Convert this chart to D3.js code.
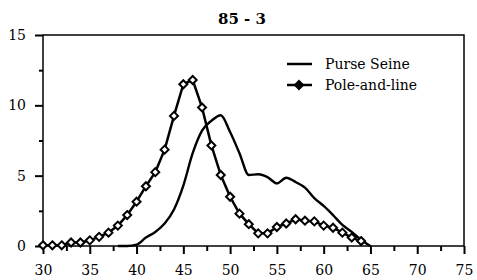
<!DOCTYPE html>
<html>
<head>
<meta charset="utf-8">
<script src="https://cdn.jsdelivr.net/npm/d3@7"></script>
<style>
  html, body { margin: 0; padding: 0; background: #fff; }
  svg text { font-family: "DejaVu Serif", "Liberation Serif", serif; fill: #000; }
</style>
</head>
<body>
<svg id="chart" width="477" height="280"></svg>
<script>
// ---- data ----
const title = "85 - 3";
const seriesNames = ["Purse Seine", "Pole-and-line"];
const purseLengths = [38, 39, 40, 41, 42, 43, 44, 45, 46, 47, 48, 49, 50, 51, 52, 53, 54, 55, 56, 57, 58, 59, 60, 61, 62, 63, 64, 65];
const purseValues  = [0, 0, 0.1, 0.6, 1.0, 1.6, 2.6, 4.3, 6.6, 8.2, 8.9, 9.3, 8.1, 6.6, 5.05, 5.1, 4.9, 4.45, 4.85, 4.55, 4.15, 3.4, 2.85, 2.2, 1.5, 1.0, 0.45, 0];
const poleLengths = [30, 31, 32, 33, 34, 35, 36, 37, 38, 39, 40, 41, 42, 43, 44, 45, 46, 47, 48, 49, 50, 51, 52, 53, 54, 55, 56, 57, 58, 59, 60, 61, 62, 63, 64];
const poleValues  = [0.05, 0.05, 0.05, 0.25, 0.25, 0.4, 0.65, 0.95, 1.45, 2.2, 3.15, 4.25, 5.25, 6.85, 9.25, 11.5, 11.8, 9.85, 7.15, 5.05, 3.5, 2.3, 1.55, 0.9, 0.9, 1.35, 1.6, 1.9, 1.8, 1.75, 1.45, 1.3, 0.95, 0.6, 0.35];
const xMajorTicks = [30, 35, 40, 45, 50, 55, 60, 65, 70, 75];
const xMinorTicks = [32.5, 37.5, 42.5, 47.5, 52.5, 57.5, 62.5, 67.5, 72.5];
const yMajorTicks = [0, 5, 10, 15];
const yMinorTicks = [2.5, 7.5, 12.5];

// ---- layout ----
const svg = d3.select("#chart");
const mLeft = 43, mRight = 464, mTop = 35, mBottom = 246;
const x = d3.scaleLinear().domain([30, 75]).range([mLeft, mRight]);
const y = d3.scaleLinear().domain([0, 15]).range([mBottom, mTop]);

// title
svg.append("text")
  .attr("x", 242).attr("y", 24)
  .attr("text-anchor", "middle")
  .attr("font-size", 15).attr("font-weight", "bold")
  .text(title);

// frame
svg.append("rect")
  .attr("x", mLeft).attr("y", mTop)
  .attr("width", mRight - mLeft).attr("height", mBottom - mTop)
  .attr("fill", "none").attr("stroke", "#000").attr("stroke-width", 1.5);

// axes
function styleAxis(g) {
  g.select(".domain").remove();
  g.selectAll(".tick line").attr("stroke", "#000").attr("stroke-width", 2);
  g.selectAll(".tick text").attr("font-size", 14)
    .attr("font-family", "DejaVu Serif, Liberation Serif, serif");
}
svg.append("g").attr("transform", `translate(0,${mBottom})`)
  .call(d3.axisBottom(x).tickValues(xMajorTicks).tickFormat(d3.format("d")).tickSize(8).tickPadding(11))
  .call(styleAxis);
svg.append("g").attr("transform", `translate(0,${mBottom})`)
  .call(d3.axisBottom(x).tickValues(xMinorTicks).tickFormat("").tickSize(5))
  .call(styleAxis);
svg.append("g").attr("transform", `translate(${mLeft},0)`)
  .call(d3.axisLeft(y).tickValues(yMajorTicks).tickFormat(d3.format("d")).tickSize(8).tickPadding(9))
  .call(styleAxis);
svg.append("g").attr("transform", `translate(${mLeft},0)`)
  .call(d3.axisLeft(y).tickValues(yMinorTicks).tickFormat("").tickSize(4))
  .call(styleAxis);

// lines
const purse = purseLengths.map((l, i) => [l, purseValues[i]]);
const pole = poleLengths.map((l, i) => [l, poleValues[i]]);

svg.append("path").datum(purse)
  .attr("d", d3.line().x(d => x(d[0])).y(d => y(d[1])).curve(d3.curveMonotoneX))
  .attr("fill", "none").attr("stroke", "#000").attr("stroke-width", 2.4)
  .attr("stroke-linejoin", "round");

svg.append("path").datum(pole)
  .attr("d", d3.line().x(d => x(d[0])).y(d => y(d[1])))
  .attr("fill", "none").attr("stroke", "#000").attr("stroke-width", 2.5)
  .attr("stroke-linejoin", "round");

const diamond = "M0,-4L4,0L0,4L-4,0Z";
svg.append("g").selectAll("path").data(pole).join("path")
  .attr("transform", d => `translate(${x(d[0])},${y(d[1])})`)
  .attr("d", diamond)
  .attr("fill", "#fff").attr("stroke", "#000").attr("stroke-width", 2);

// legend
const lg = svg.append("g");
lg.append("line").attr("x1", 287).attr("x2", 312).attr("y1", 64).attr("y2", 64)
  .attr("stroke", "#000").attr("stroke-width", 2.5);
lg.append("text").attr("x", 325).attr("y", 69).attr("font-size", 14).text(seriesNames[0]);
lg.append("line").attr("x1", 287).attr("x2", 312).attr("y1", 85).attr("y2", 85)
  .attr("stroke", "#000").attr("stroke-width", 2.5);
lg.append("path").attr("transform", "translate(299,85)").attr("d", diamond)
  .attr("fill", "#000").attr("stroke", "#000").attr("stroke-width", 2);
lg.append("text").attr("x", 325).attr("y", 90).attr("font-size", 14).text(seriesNames[1]);
</script>
</body>
</html>
